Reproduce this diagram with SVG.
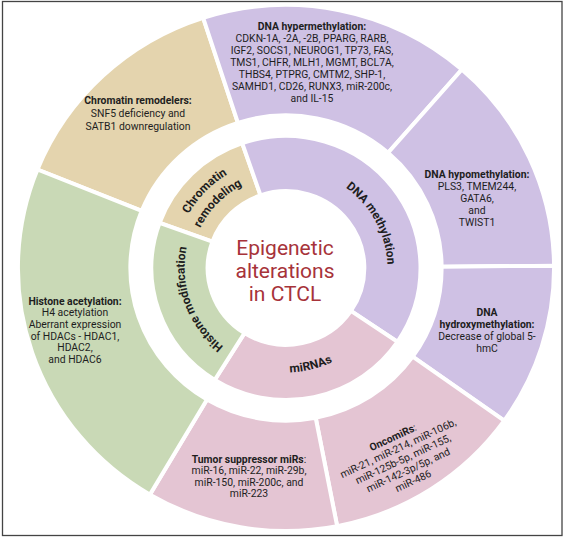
<svg xmlns="http://www.w3.org/2000/svg" width="565" height="539" viewBox="0 0 565 539">
<style>
.seg{stroke:#fff;stroke-width:4;stroke-linejoin:miter}
.pu{fill:#cfc1e4}.ta{fill:#e4d4ae}.gr{fill:#c9d9b6}.pk{fill:#e4c5d3}
text{font-family:Roboto,"Liberation Sans",sans-serif;fill:#1e1e1e}
.t{font-size:10.4px;text-anchor:middle}
.b{font-weight:bold}
.il{font-size:12px;font-weight:bold}
.title{font-size:21px;fill:#a7333a;text-anchor:middle}
</style>
<defs>
<path id="pDNA" d="M320.54,173.09 A101,101 0 0 1 384.00,292.43"/>
<path id="pHis" d="M243.32,359.54 A101,101 0 0 1 194.46,225.32"/>
<path id="pMir" d="M256.78,369.89 A106,106 0 0 0 359.63,344.25"/>
<path id="pChr1" d="M174.77,260.22 A111.5,111.5 0 0 1 274.35,157.11"/>
<path id="pChr2" d="M191.73,261.41 A94.5,94.5 0 0 1 276.12,174.02"/>
</defs>
<rect x="2.5" y="1.5" width="559.5" height="534" fill="#fff" stroke="#444" stroke-width="1.3"/>
<g transform="matrix(1.004 0 0 0.985 -1.144 4.02)">
<g id="outer-chromatin-remodelers"><path class="seg ta" d="M38.44,167.98 A267,267 0 0 1 203.49,14.07 L238.10,120.59 A155,155 0 0 0 142.29,209.94 Z"/></g>
<g id="outer-dna-hypermethylation"><path class="seg pu" d="M203.49,14.07 A267,267 0 0 1 461.17,66.49 L387.69,151.02 A155,155 0 0 0 238.10,120.59 Z"/></g>
<g id="outer-dna-hypomethylation"><path class="seg pu" d="M461.17,66.49 A267,267 0 0 1 552.99,265.67 L440.99,266.65 A155,155 0 0 0 387.69,151.02 Z"/></g>
<g id="outer-dna-hydroxymethylation"><path class="seg pu" d="M552.99,265.67 A267,267 0 0 1 503.37,423.05 L412.19,358.01 A155,155 0 0 0 440.99,266.65 Z"/></g>
<g id="outer-oncomirs"><path class="seg pk" d="M503.37,423.05 A267,267 0 0 1 336.95,530.10 L315.58,420.15 A155,155 0 0 0 412.19,358.01 Z"/></g>
<g id="outer-tumor-suppressor"><path class="seg pk" d="M336.95,530.10 A267,267 0 0 1 150.49,498.06 L207.33,401.55 A155,155 0 0 0 315.58,420.15 Z"/></g>
<g id="outer-histone-acetylation"><path class="seg gr" d="M150.49,498.06 A267,267 0 0 1 38.44,167.98 L142.29,209.94 A155,155 0 0 0 207.33,401.55 Z"/></g>
<g id="inner-chromatin-remodeling"><path class="seg ta" d="M160.08,222.17 A134,134 0 0 1 242.37,141.30 L260.61,194.25 A78,78 0 0 0 212.70,241.32 Z"/>
<text class="il"><textPath href="#pChr1" startOffset="50%" text-anchor="middle">Chromatin</textPath><textPath href="#pChr2" startOffset="50%" text-anchor="middle">remodeling</textPath></text></g>
<g id="inner-dna-methylation"><path class="seg pu" d="M242.37,141.30 A134,134 0 0 1 397.09,342.93 L350.67,311.62 A78,78 0 0 0 260.61,194.25 Z"/>
<text class="il"><textPath href="#pDNA" startOffset="50%" text-anchor="middle">DNA methylation</textPath></text></g>
<g id="inner-mirnas"><path class="seg pk" d="M397.09,342.93 A134,134 0 0 1 214.99,381.64 L244.67,334.15 A78,78 0 0 0 350.67,311.62 Z"/>
<text class="il"><textPath href="#pMir" startOffset="50%" text-anchor="middle">miRNAs</textPath></text></g>
<g id="inner-histone-modification"><path class="seg gr" d="M214.99,381.64 A134,134 0 0 1 160.08,222.17 L212.70,241.32 A78,78 0 0 0 244.67,334.15 Z"/>
<text class="il"><textPath href="#pHis" startOffset="50%" text-anchor="middle">Histone modification</textPath></text></g>
</g>
<g id="center">
<text class="title" x="285" y="254.5">Epigenetic</text>
<text class="title" x="285" y="277.5">alterations</text>
<text class="title" x="285" y="300.5">in CTCL</text>
</g>
<g id="label-chromatin-remodelers">
<text class="t b" x="138" y="103.7">Chromatin remodelers:</text>
<text class="t" x="138" y="116.7">SNF5 deficiency and</text>
<text class="t" x="138" y="129.7">SATB1 downregulation</text>
</g>
<g id="label-dna-hypermethylation">
<text class="t b" x="312" y="29.7">DNA hypermethylation:</text>
<text class="t" x="312" y="41.7">CDKN-1A, -2A, -2B, PPARG, RARB,</text>
<text class="t" x="312" y="53.7">IGF2, SOCS1, NEUROG1, TP73, FAS,</text>
<text class="t" x="312" y="65.7">TMS1, CHFR, MLH1, MGMT, BCL7A,</text>
<text class="t" x="312" y="77.7">THBS4, PTPRG, CMTM2, SHP-1,</text>
<text class="t" x="312" y="89.7">SAMHD1, CD26, RUNX3, miR-200c,</text>
<text class="t" x="312" y="101.7">and IL-15</text>
</g>
<g id="label-dna-hypomethylation">
<text class="t b" x="477" y="177.7">DNA hypomethylation:</text>
<text class="t" x="477" y="189.7">PLS3, TMEM244,</text>
<text class="t" x="477" y="201.7">GATA6,</text>
<text class="t" x="477" y="213.7">and</text>
<text class="t" x="477" y="225.7">TWIST1</text>
</g>
<g id="label-dna-hydroxymethylation">
<text class="t b" x="487" y="315.7">DNA</text>
<text class="t b" x="487" y="327.7">hydroxymethylation:</text>
<text class="t" x="487" y="339.7">Decrease of global 5-</text>
<text class="t" x="487" y="351.7">hmC</text>
</g>
<g id="label-oncomirs" transform="translate(403,459) rotate(-25)">
<text class="t" x="0" y="-20.3"><tspan class="b">OncomiRs</tspan>:</text>
<text class="t" x="0" y="-8.3">miR-21, miR-214, miR-106b,</text>
<text class="t" x="0" y="3.7">miR-125b-5p, miR-155,</text>
<text class="t" x="0" y="15.7">miR-142-3p/5p, and</text>
<text class="t" x="0" y="27.7">miR-486</text>
</g>
<g id="label-tumor-suppressor">
<text class="t" x="249" y="462.7"><tspan class="b">Tumor suppressor miRs</tspan>:</text>
<text class="t" x="249" y="474.2">miR-16, miR-22, miR-29b,</text>
<text class="t" x="249" y="485.7">miR-150, miR-200c, and</text>
<text class="t" x="249" y="497.2">miR-223</text>
</g>
<g id="label-histone-acetylation">
<text class="t b" x="75" y="304.7">Histone acetylation:</text>
<text class="t" x="75" y="316.3">H4 acetylation</text>
<text class="t" x="75" y="327.9">Aberrant expression</text>
<text class="t" x="75" y="339.5">of HDACs - HDAC1,</text>
<text class="t" x="75" y="351.1">HDAC2,</text>
<text class="t" x="75" y="362.7">and HDAC6</text>
</g>
<g id="connectors"></g>
</svg>
